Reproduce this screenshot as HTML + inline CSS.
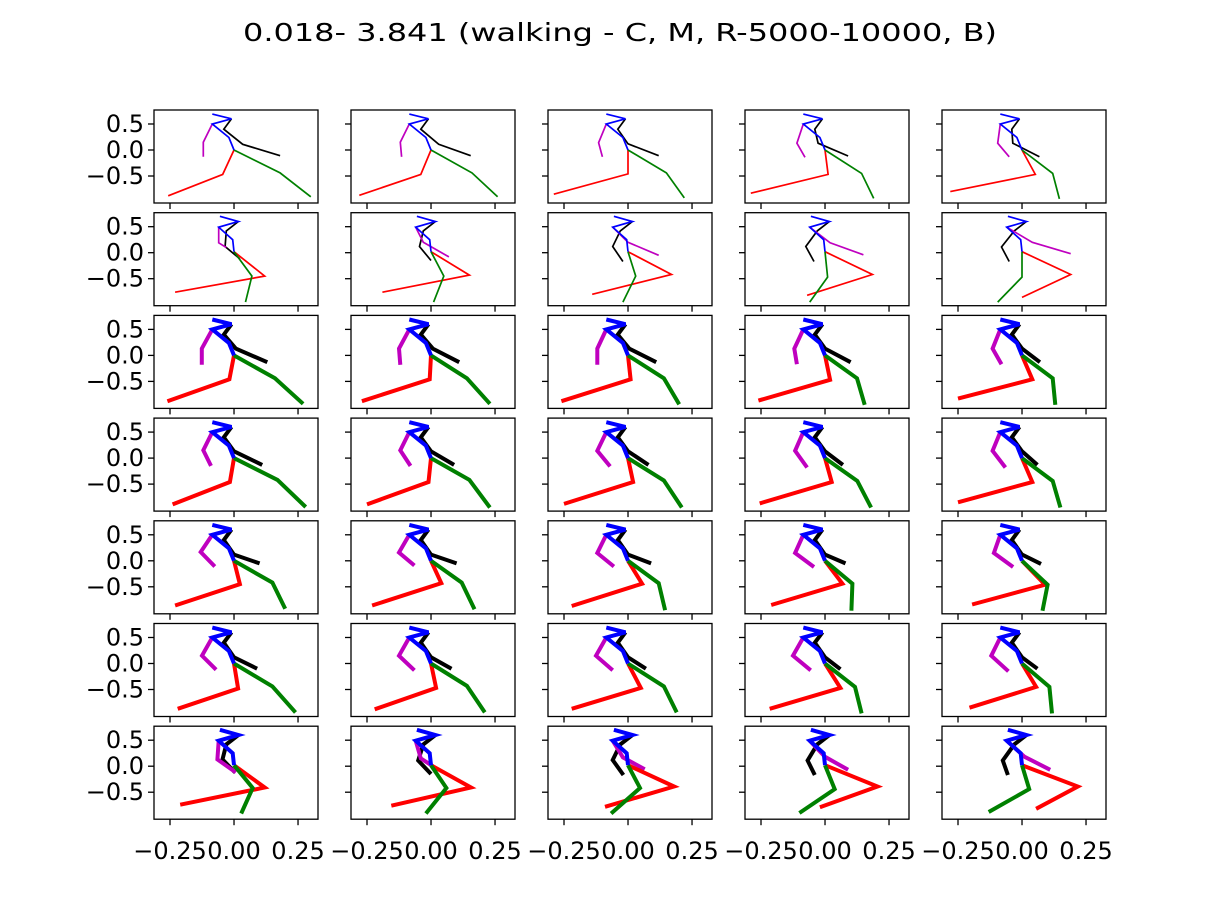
<!DOCTYPE html>
<html><head><meta charset="utf-8">
<style>
body{margin:0;background:#fff;}
svg{display:block;font-family:"DejaVu Sans","Liberation Sans",sans-serif;}
</style></head>
<body>
<svg id="fig" width="1228" height="921" viewBox="0 0 1228 921" xmlns="http://www.w3.org/2000/svg">
<rect width="1228" height="921" fill="#fff"/>
<text x="620" y="41" font-size="25" text-anchor="middle" textLength="754" lengthAdjust="spacingAndGlyphs" fill="#000">0.018- 3.841 (walking - C, M, R-5000-10000, B)</text>
</svg>
<script>
// per-panel joint positions (row-major, 7 rows x 5 cols)
const redKnee=[[-0.044,-0.47],[-0.04,-0.47],[0.0,-0.46],[0.012,-0.47],[0.052,-0.47],
[0.12,-0.45],[0.15,-0.43],[0.17,-0.42],[0.185,-0.42],[0.19,-0.42],
[-0.018,-0.46],[-0.005,-0.46],[0.01,-0.46],[0.02,-0.47],[0.04,-0.46],
[-0.016,-0.46],[-0.01,-0.46],[0.02,-0.46],[0.026,-0.46],[0.04,-0.46],
[0.023,-0.45],[0.04,-0.43],[0.055,-0.44],[0.068,-0.44],[0.09,-0.46],
[0.016,-0.48],[0.02,-0.47],[0.05,-0.47],[0.06,-0.47],[0.055,-0.45],
[0.12,-0.41],[0.156,-0.41],[0.18,-0.39],[0.205,-0.39],[0.218,-0.39]];
const redFoot=[[-0.257,-0.88],[-0.28,-0.87],[-0.29,-0.85],[-0.29,-0.83],[-0.28,-0.80],
[-0.23,-0.76],[-0.19,-0.76],[-0.14,-0.8],[-0.07,-0.82],[0,-0.86],
[-0.26,-0.88],[-0.27,-0.88],[-0.26,-0.88],[-0.26,-0.87],[-0.25,-0.83],
[-0.24,-0.89],[-0.25,-0.89],[-0.25,-0.88],[-0.255,-0.87],[-0.25,-0.85],
[-0.23,-0.86],[-0.23,-0.86],[-0.22,-0.87],[-0.21,-0.85],[-0.195,-0.84],
[-0.22,-0.87],[-0.22,-0.88],[-0.22,-0.87],[-0.216,-0.87],[-0.205,-0.85],
[-0.21,-0.74],[-0.155,-0.76],[-0.09,-0.78],[-0.02,-0.79],[0.055,-0.82]];
const greenKnee=[[0.18,-0.44],[0.16,-0.44],[0.15,-0.44],[0.143,-0.45],[0.12,-0.45],
[0.07,-0.45],[0.05,-0.45],[0.03,-0.45],[0.01,-0.47],[0,-0.47],
[0.16,-0.44],[0.14,-0.44],[0.14,-0.44],[0.125,-0.44],[0.12,-0.44],
[0.17,-0.42],[0.15,-0.42],[0.14,-0.43],[0.126,-0.44],[0.12,-0.44],
[0.15,-0.42],[0.12,-0.42],[0.12,-0.43],[0.107,-0.44],[0.1,-0.46],
[0.15,-0.44],[0.14,-0.43],[0.14,-0.44],[0.117,-0.45],[0.107,-0.45],
[0.073,-0.42],[0.06,-0.42],[0.047,-0.42],[0.038,-0.44],[0.028,-0.44]];
const greenFoot=[[0.30,-0.90],[0.26,-0.90],[0.22,-0.92],[0.19,-0.93],[0.146,-0.94],
[0.045,-0.95],[0.01,-0.95],[-0.02,-0.95],[-0.06,-0.95],[-0.095,-0.95],
[0.27,-0.93],[0.23,-0.93],[0.2,-0.94],[0.155,-0.95],[0.13,-0.95],
[0.28,-0.94],[0.23,-0.95],[0.21,-0.95],[0.18,-0.95],[0.15,-0.95],
[0.2,-0.92],[0.17,-0.93],[0.145,-0.95],[0.103,-0.96],[0.08,-0.96],
[0.24,-0.94],[0.21,-0.94],[0.19,-0.94],[0.143,-0.96],[0.117,-0.96],
[0.028,-0.91],[-0.02,-0.91],[-0.066,-0.91],[-0.1,-0.9],[-0.13,-0.88]];
const magElbow=[[-0.12,0.15],[-0.12,0.15],[-0.115,0.14],[-0.11,0.13],[-0.095,0.13],
[-0.06,0.19],[-0.03,0.2],[0.0,0.2],[0.02,0.19],[0.04,0.2],
[-0.126,0.13],[-0.125,0.13],[-0.12,0.13],[-0.12,0.13],[-0.115,0.13],
[-0.12,0.15],[-0.12,0.15],[-0.12,0.14],[-0.117,0.14],[-0.115,0.14],
[-0.13,0.17],[-0.125,0.16],[-0.12,0.15],[-0.117,0.15],[-0.11,0.15],
[-0.125,0.15],[-0.125,0.15],[-0.125,0.15],[-0.125,0.15],[-0.12,0.15],
[-0.065,0.13],[-0.04,0.15],[-0.02,0.17],[0.0,0.18],[0.01,0.18]];
const magHand=[[-0.12,-0.13],[-0.115,-0.13],[-0.10,-0.13],[-0.078,-0.14],[-0.05,-0.13],
[-0.03,0.10],[0.07,-0.08],[0.12,-0.05],[0.15,-0.04],[0.19,-0.02],
[-0.126,-0.18],[-0.12,-0.18],[-0.12,-0.18],[-0.11,-0.17],[-0.08,-0.17],
[-0.09,-0.15],[-0.08,-0.15],[-0.07,-0.16],[-0.07,-0.18],[-0.065,-0.18],
[-0.075,-0.11],[-0.065,-0.09],[-0.055,-0.11],[-0.043,-0.12],[-0.035,-0.12],
[-0.07,-0.12],[-0.065,-0.13],[-0.06,-0.13],[-0.056,-0.13],[-0.053,-0.15],
[0.007,-0.12],[0.007,0.0],[0.065,-0.06],[0.09,-0.07],[0.11,-0.07]];
const blackElbow=[[0.034,0.11],[0.03,0.11],[0.0,0.12],[-0.027,0.13],[-0.036,0.13],
[-0.035,0.12],[-0.045,0.12],[-0.06,0.12],[-0.075,0.12],[-0.08,0.11],
[0.007,0.13],[0.007,0.13],[0.005,0.13],[0.0,0.13],[0.0,0.13],
[0.0,0.13],[0.0,0.13],[0.0,0.13],[0.0,0.13],[0.0,0.13],
[0.0,0.12],[0.0,0.12],[0.0,0.12],[0.0,0.12],[0.0,0.12],
[0.0,0.12],[0.0,0.12],[0.0,0.12],[0.0,0.12],[0.0,0.12],
[-0.045,0.13],[-0.05,0.11],[-0.06,0.12],[-0.068,0.11],[-0.075,0.11]];
const blackHand=[[0.18,-0.11],[0.155,-0.11],[0.12,-0.11],[0.09,-0.115],[0.068,-0.13],
[0.023,-0.12],[0,-0.15],[-0.02,-0.17],[-0.043,-0.17],[-0.05,-0.17],
[0.13,-0.13],[0.11,-0.13],[0.11,-0.13],[0.1,-0.13],[0.07,-0.13],
[0.11,-0.13],[0.09,-0.13],[0.08,-0.13],[0.07,-0.13],[0.06,-0.13],
[0.10,-0.05],[0.1,-0.05],[0.09,-0.05],[0.08,-0.05],[0.074,-0.06],
[0.09,-0.1],[0.08,-0.1],[0.07,-0.1],[0.06,-0.11],[0.06,-0.1],
[0.004,-0.12],[0,-0.15],[-0.018,-0.17],[-0.04,-0.17],[-0.055,-0.17]];
const spineA=[[0,0],[-0.02,0.24],[-0.085,0.5],[-0.01,0.6],[-0.085,0.69]];
const spineB=[[0,0.02],[-0.005,0.25],[-0.06,0.49],[0.017,0.6],[-0.055,0.70]];
const yTicks=[0.5,0.0,-0.5];
const yTickLabels=["0.5","0.0","\u22120.5"];
const xTicks=[-0.25,0.0,0.25];
const xTickLabels=["\u22120.25","0.00","0.25"];

const NS="http://www.w3.org/2000/svg";
const svg=document.getElementById('fig');
const colLeft=[154,351,548,745,942], rowTop=[110,212.7,315.4,418.1,520.8,623.5,726.2];
const W=164,H=93, xmin=-0.3125,xmax=0.328,ymin=-1.019,ymax=0.769;
function mk(tag,attrs,parent){const e=document.createElementNS(NS,tag);for(const k in attrs)e.setAttribute(k,attrs[k]);(parent||svg).appendChild(e);return e;}
for(let r=0;r<7;r++){for(let c=0;c<5;c++){
  const i=r*5+c, L=colLeft[c], T=rowTop[r];
  const sx=v=>L+(v-xmin)/(xmax-xmin)*W;
  const sy=v=>T+(ymax-v)/(ymax-ymin)*H;
  const g=mk('g',{});
  
  
  const clipId='clip'+i;
  const cp=mk('clipPath',{id:clipId},g);mk('rect',{x:L,y:T,width:W,height:H},cp);
  const lw=(r<2)?1.7:4;
  const sp=(r==1||r==6)?spineB:spineA;
  const fig=mk('g',{'clip-path':'url(#'+clipId+')','stroke-linejoin':'miter','fill':'none'},g);
  const pl=(pts,col,name)=>{const p=mk('polyline',{points:pts.map(q=>sx(q[0]).toFixed(1)+','+sy(q[1]).toFixed(1)).join(' '),stroke:col,'stroke-width':lw,fill:'none'},fig);
    
    };
  const sh=(r==1||r==6)?[-0.03,0.42]:[-0.04,0.4];
  pl([sp[3],sh,blackElbow[i],blackHand[i]],'#000','black-arm');
  pl([sp[2],magElbow[i],magHand[i]],'#bf00bf','magenta-arm');
  pl([sp[0],redKnee[i],redFoot[i]],'#ff0000','red-leg');
  pl([sp[0],greenKnee[i],greenFoot[i]],'#008000','green-leg');
  pl(sp,'#0000ff','blue-spine');
  const fr=mk('rect',{x:L,y:T,width:W,height:H,fill:'none',stroke:'#000','stroke-width':1.3},g);
  
  
  yTicks.forEach((v,k)=>{mk('line',{x1:L-6,x2:L,y1:sy(v),y2:sy(v),stroke:'#000','stroke-width':1.3},g);
    if(c==0){const t=mk('text',{x:L-10,y:sy(v)+8,'font-size':24,'text-anchor':'end',fill:'#000'},g);t.textContent=yTickLabels[k];
      
      }});
  xTicks.forEach((v,k)=>{mk('line',{x1:sx(v),x2:sx(v),y1:T+H,y2:T+H+6,stroke:'#000','stroke-width':1.3},g);
    if(r==6){const t=mk('text',{x:sx(v),y:859,'font-size':24,'text-anchor':'middle',fill:'#000'},g);t.textContent=xTickLabels[k];
      
      }});
}}
</script>
</body></html>
